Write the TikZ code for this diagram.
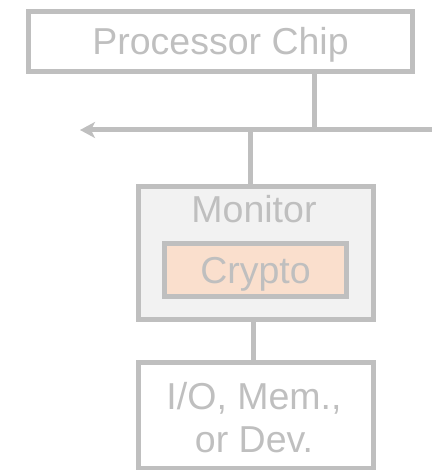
\documentclass[tikz,border=0pt]{standalone}
\usepackage{fontspec}
\setmainfont{Liberation Sans}
\usetikzlibrary{arrows.meta}
\definecolor{edgegray}{HTML}{BFBFBF}
\definecolor{monfill}{HTML}{F2F2F2}
\definecolor{cryptofill}{HTML}{FADFCD}
\tikzset{
  unitbox/.style={draw=edgegray, line width=5pt, inner sep=0pt, outer sep=0pt,
    text=edgegray, font=\fontsize{37.5}{42}\selectfont},
  wire/.style={draw=edgegray, line width=5pt},
  lbl/.style={text=edgegray, font=\fontsize{37.5}{42}\selectfont, inner sep=0pt}
}
\begin{document}
\begin{tikzpicture}[x=1pt, y=-1pt]
  \useasboundingbox (0,0) rectangle (431,470);

  % processor and system bus
  \node[unitbox, minimum width=384pt, minimum height=60pt,
        text height=27pt, text depth=0pt] (proc) at (220.5,41.5) {Processor Chip};
  \coordinate (busR) at (434,130);
  \coordinate (busL) at (80,130);
  \coordinate (tapA) at (314,130);
  \coordinate (tapB) at (250,130);
  \draw[wire, -{Stealth[length=15pt, width=16pt, inset=4pt]}] (busR) -- (busL);
  \draw[wire] (tapA |- proc.south) -- (tapA);

  % monitor with the crypto unit inside
  \node[unitbox, fill=monfill, minimum width=235pt, minimum height=133pt] (mon) at (256,253) {};
  \node[lbl, anchor=base] (monlbl) at (254,222) {Monitor};
  \node[unitbox, fill=cryptofill, minimum width=182pt, minimum height=53pt,
        text height=27pt, text depth=0pt] (crypto) at (255.5,269.5) {Crypto};
  \draw[wire] (tapB) -- (tapB |- mon.north);

  % downstream I/O, memory or device
  \node[unitbox, minimum width=235pt, minimum height=106pt] (io) at (256,415.5) {};
  \node[lbl, anchor=base] (iolbl1) at (254,409) {I/O, Mem.,};
  \node[lbl, anchor=base] (iolbl2) at (254,452) {or Dev.};
  \coordinate (tapC) at (253,330);
  \draw[wire] (tapC |- mon.south) -- (tapC |- io.north);
\end{tikzpicture}
\end{document}
